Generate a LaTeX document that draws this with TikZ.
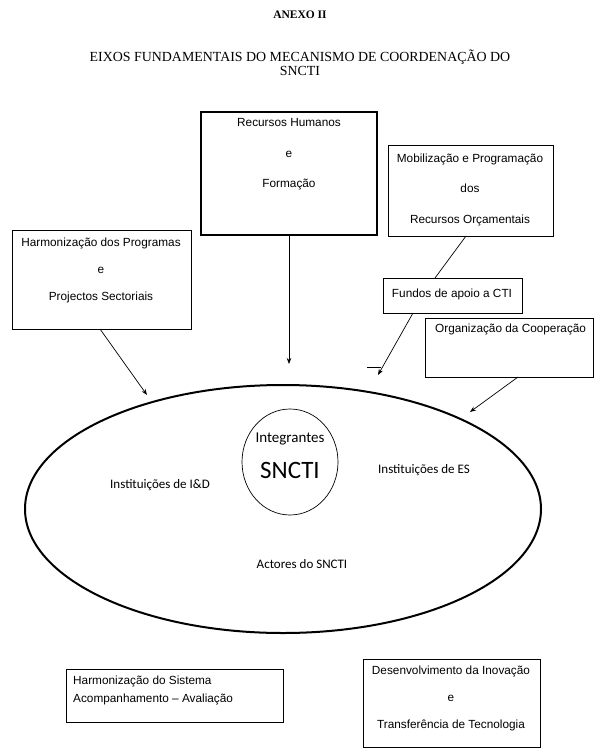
\documentclass[tikz,border=0pt]{standalone}
\usepackage{fontspec}
\setmainfont{Liberation Sans}
\newfontfamily\calfont{Carlito}
\newfontfamily\serfont{Liberation Serif}
\usetikzlibrary{arrows.meta,shapes.geometric}
\begin{document}
\begin{tikzpicture}[x=1pt,y=-1pt,
  box/.style={draw, line width=0.8pt, inner sep=0pt},
  thickbox/.style={draw, line width=2pt, inner sep=0pt},
  txt/.style={align=center, inner sep=0pt, font=\fontsize{11.8}{30.5}\selectfont},
  ctxt/.style={inner sep=0pt, font=\calfont\fontsize{13}{15}\selectfont},
  arr/.style={-{Stealth[length=6pt,width=4.5pt]}, line width=0.7pt},
  link/.style={line width=0.7pt},
]
\useasboundingbox (0,0) rectangle (595,749);

% titles
\node[font=\serfont\bfseries\fontsize{11.5}{13}\selectfont, inner sep=0pt] (anexo) at (300,15) {ANEXO II};
\node[font=\serfont\fontsize{13.9}{14}\selectfont, align=center, inner sep=0pt] (title) at (300,63) {EIXOS FUNDAMENTAIS DO MECANISMO DE COORDENAÇÃO DO\\SNCTI};

% boxes
\node[thickbox, minimum width=176, minimum height=123] (rh) at (289,173.5) {};
\node[txt] (rht) at (289,154.5) {Recursos Humanos\\e\\Formação};

\node[box, minimum width=165, minimum height=91] (mob) at (470.5,190.5) {};
\node[txt] (mobt) at (470,189.5) {Mobilização e Programação\\dos\\Recursos Orçamentais};

\node[box, minimum width=179, minimum height=99] (harm) at (101.5,279.5) {};
\node[txt, font=\fontsize{11.8}{27}\selectfont] (harmt) at (101,270) {Harmonização dos Programas\\e\\Projectos Sectoriais};

\node[box, minimum width=139, minimum height=35] (fun) at (452.5,295.5) {};
\node[txt] (funt) at (452,294) {Fundos de apoio a CTI};

\node[box, minimum width=168, minimum height=59] (org) at (509,347.5) {};
\node[txt, anchor=west] (orgt) at (435,329) {Organização da Cooperação};

\node[box, minimum width=217, minimum height=53] (hs) at (174.5,695.5) {};
\node[txt, align=left, anchor=west, font=\fontsize{11.8}{18}\selectfont] (hst) at (73,690) {Harmonização do Sistema\\Acompanhamento -- Avaliação};

\node[box, minimum width=177, minimum height=88] (dev) at (451.5,703) {};
\node[txt, font=\fontsize{11.8}{27}\selectfont] (devt) at (451,698) {Desenvolvimento da Inovação\\e\\Transferência de Tecnologia};

% ellipse and circle
\node[draw, ellipse, line width=2pt, inner sep=0pt, minimum width=516, minimum height=248] (ell) at (283,509) {};
\node[draw, ellipse, line width=0.7pt, inner sep=0pt, minimum width=96, minimum height=106] (circ) at (290,462) {};

\node[ctxt, font=\calfont\fontsize{15}{17}\selectfont] (integ) at (290,439) {Integrantes};
\node[ctxt, font=\calfont\fontsize{25}{28}\selectfont] (sncti) at (290,470) {SNCTI};
\node[ctxt] (iid) at (160,485) {Instituições de I\&D};
\node[ctxt] (ies) at (424,470) {Instituições de ES};
\node[ctxt] (act) at (302,564) {Actores do SNCTI};

% connectors
\coordinate (rhtip) at (289,364);
\coordinate (harmtip) at (147,395);
\coordinate (mobfun) at (435,278);
\coordinate (mobstart) at (466,236);
\coordinate (funstart) at (413,313);
\coordinate (funtip) at (378,375);
\coordinate (orgstart) at (518,377);
\coordinate (orgtip) at (470,412);
\coordinate (harmstart) at (100,329);
\coordinate (barl) at (367,367);
\coordinate (barr) at (381,367);

\draw[arr] (rh.south) -- (rhtip);
\draw[arr] (harmstart) -- (harmtip);
\draw[link] (mobstart) -- (mobfun);
\draw[arr] (funstart) -- (funtip);
\draw[arr] (orgstart) -- (orgtip);
\draw[link] (barl) -- (barr);
\end{tikzpicture}
\end{document}
